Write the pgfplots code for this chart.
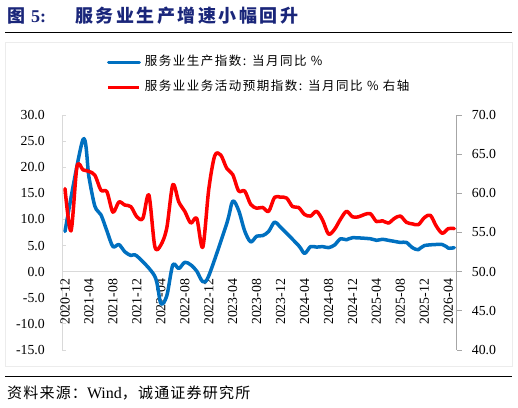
\documentclass[border=0pt]{standalone}
\usepackage{fontspec}
\usepackage{pgfplots}
\pgfplotsset{compat=1.18}
\setmainfont{Liberation Serif}
\newfontfamily\cjk{Noto Sans CJK SC}
\definecolor{titleblue}{RGB}{26,38,122}
\definecolor{prodblue}{RGB}{0,112,192}
\definecolor{expred}{RGB}{255,0,0}
\definecolor{axisgray}{RGB}{217,217,217}
\definecolor{raxisgray}{RGB}{166,166,166}

% services production index, yoy % (left axis); x = months since 2020-12
\pgfplotstableread{
m  v
0  7.7
3  25.3
4  18.1
5  12.5
6  10.9
7  7.8
8  4.8
9  5.2
10 3.8
11 3.1
12 3.0
15 -0.9
16 -6.1
17 -4.6
18 1.3
19 0.6
20 1.8
21 1.3
22 0.1
23 -1.9
24 -0.8
27 9.2
28 13.5
29 11.7
30 7.8
31 5.7
32 6.8
33 6.9
34 7.7
35 9.5
36 8.5
39 5.0
40 3.5
41 4.8
42 4.7
43 4.8
44 4.6
45 5.1
46 6.3
47 6.1
48 6.5
51 6.3
52 6.0
53 6.2
54 6.0
55 5.8
56 5.6
57 5.6
58 4.6
59 4.2
60 5.0
63 5.2
64 4.5
65 4.6
}\prodtable

% services business activity expectation index (right axis)
\pgfplotstableread{
m  v
0  60.6
1  55.2
2  63.4
3  63.0
4  62.8
5  62.3
6  60.4
7  60.2
8  57.6
9  58.9
10 58.5
11 58.3
12 57.0
13 56.8
14 59.8
15 53.2
16 53.4
17 55.6
18 61.1
19 58.9
20 57.7
21 56.2
22 56.8
23 53.1
24 60.5
25 64.8
26 64.9
27 63.2
28 62.4
29 60.3
30 60.3
31 58.6
32 58.1
33 58.2
34 57.7
35 59.5
36 59.5
37 59.4
38 58.3
39 58.2
40 57.3
41 57.1
42 57.7
43 56.6
44 54.8
45 55.4
46 56.7
47 57.7
48 57.0
49 57.0
50 57.3
51 57.4
52 56.4
53 56.5
54 56.2
55 56.8
56 57.1
57 56.3
58 56.1
59 56.0
60 56.9
61 57.2
62 55.8
63 54.9
64 55.5
65 55.5
}\exptable

\newcommand{\tickfont}{\fontsize{13.8}{14}\selectfont}
\newcommand{\legfont}{\fontsize{12.5}{13}\cjk\addfontfeature{LetterSpace=12}}

\begin{document}
\begin{tikzpicture}[x=1pt,y=1pt]
\path[use as bounding box] (0pt,0pt) rectangle (518pt,407pt);

% title
\node[anchor=base west, inner sep=0, text=titleblue] at (7pt,384pt)
  {\fontsize{18}{18}\cjk\bfseries 图};
\node[anchor=base west, inner sep=0, text=titleblue] at (31pt,384pt)
  {\fontsize{18}{18}\selectfont\bfseries 5:};
\node[anchor=base west, inner sep=0, text=titleblue] at (75pt,384pt)
  {\fontsize{18}{18}\cjk\bfseries\addfontfeature{LetterSpace=14}服务业生产增速小幅回升};
\draw[black, line width=0.9pt] (5pt,374.7pt) -- (512pt,374.7pt);

% chart frame
\draw[gray!15, line width=0.8pt] (5pt,40.5pt) rectangle (512pt,365pt);

% source line
\draw[black, line width=0.9pt] (5pt,31pt) -- (512pt,31pt);
\node[anchor=base west, inner sep=0] at (7pt,9pt)
  {\fontsize{15}{15}\cjk\addfontfeature{LetterSpace=8}资料来源：\rmfamily\fontsize{16}{16}\selectfont Wind\cjk\fontsize{15}{15}\selectfont\addfontfeature{LetterSpace=8}，诚通证券研究所};

\begin{axis}[
  at={(62pt,57pt)}, anchor=south west,
  scale only axis, width=394.7pt, height=235pt,
  xmin=-0.5, xmax=65.4, ymin=-15, ymax=30,
  axis x line=middle, axis y line=left,
  hide obscured x ticks=false, hide obscured y ticks=false,
  axis line style={-, draw=axisgray, line width=0.9pt},
  every inner x axis line/.append style={-},
  xtick={0,4,...,64},
  xticklabels={2020-12,2021-04,2021-08,2021-12,2022-04,2022-08,2022-12,2023-04,2023-08,2023-12,2024-04,2024-08,2024-12,2025-04,2025-08,2025-12,2026-04},
  xtick style={draw=none},
  xticklabel style={font=\tickfont, rotate=90, anchor=east, inner sep=0pt, xshift=-5pt},
  ytick={-15,-10,...,30},
  yticklabels={-15.0,-10.0,-5.0,0.0,5.0,10.0,15.0,20.0,25.0,30.0},
  ytick pos=left, ytick align=inside,
  ytick style={draw=axisgray, line width=0.9pt},
  major tick length=4pt,
  yticklabel style={font=\tickfont, anchor=east, inner sep=0pt, xshift=-17pt},
  legend style={at={(0.114,1.253)}, anchor=north west, draw=none, fill=none,
    inner sep=0pt, outer sep=0pt, row sep=12pt, column sep=4pt,
    nodes={inner sep=0pt, text height=10pt, text depth=3pt, anchor=west},
    font=\legfont},
  legend cell align=left,
  legend image code/.code={\draw[#1, line width=3pt] (0pt,0pt) -- (31pt,0pt);},
]
\addplot[draw=prodblue, line width=3.5pt, smooth, line join=round, line cap=round]
  table[x=m, y=v] {\prodtable};
\addlegendentry{服务业生产指数: 当月同比 \%}
\addlegendimage{draw=expred}
\addlegendentry{服务业业务活动预期指数: 当月同比 \% 右轴}
\end{axis}

\begin{axis}[
  at={(62pt,57pt)}, anchor=south west,
  scale only axis, width=394.7pt, height=235pt,
  xmin=-0.5, xmax=65.4, ymin=40, ymax=70,
  axis x line=none, axis y line*=right,
  axis line style={-, draw=raxisgray, line width=0.9pt},
  ytick={40,45,...,70},
  yticklabels={40.0,45.0,50.0,55.0,60.0,65.0,70.0},
  ytick pos=right, ytick align=outside,
  ytick style={draw=raxisgray, line width=0.9pt},
  major tick length=5pt,
  yticklabel style={font=\tickfont, anchor=west, inner sep=0pt, xshift=10pt},
]
\addplot[draw=expred, line width=3.5pt, smooth, line join=round, line cap=round]
  table[x=m, y=v] {\exptable};
\end{axis}
\end{tikzpicture}
\end{document}
